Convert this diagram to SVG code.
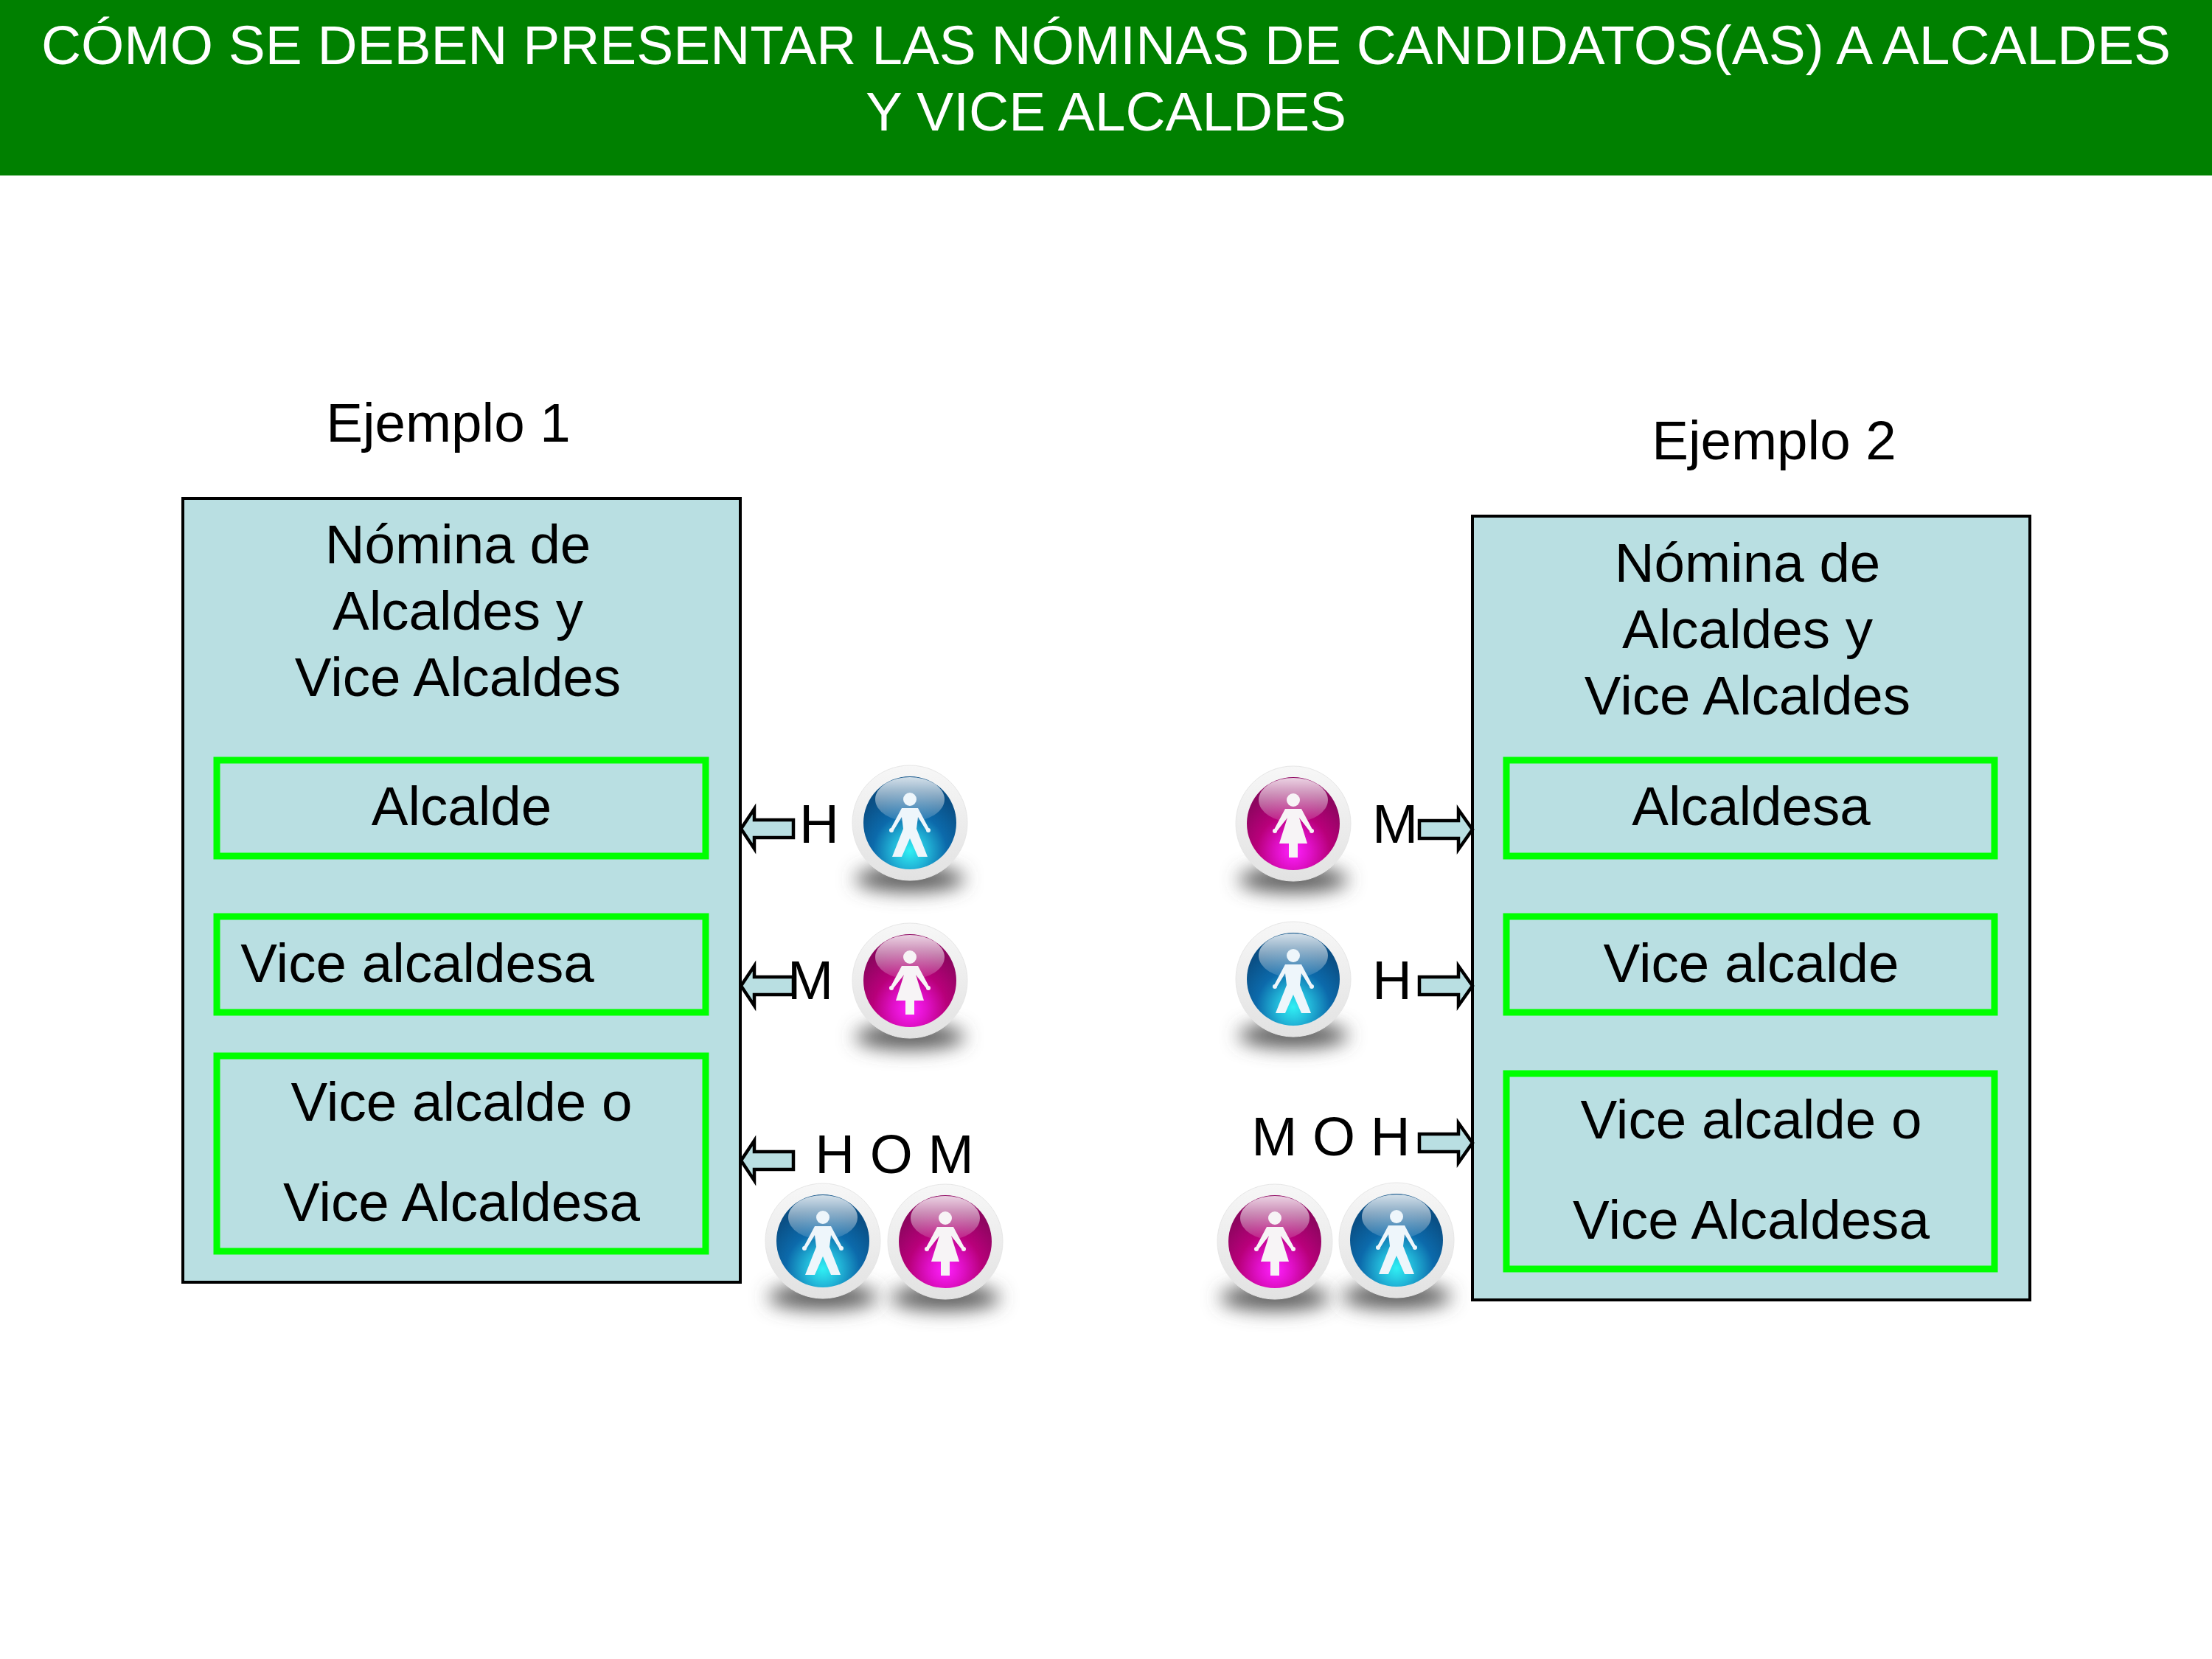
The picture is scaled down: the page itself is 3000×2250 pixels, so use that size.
<svg xmlns="http://www.w3.org/2000/svg" width="3000" height="2250" viewBox="0 0 3000 2250">
<style>
text{font-family:"Liberation Sans",Arial,sans-serif;font-size:74.6px;fill:#000;text-anchor:middle}
.h{fill:#fff}
.box{fill:#b9dfe2;stroke:#000;stroke-width:4}
.g{fill:#b9dfe2;stroke:#00ff00;stroke-width:9}
.a{fill:#b9dfe2;stroke:#000;stroke-width:4.5}
</style>
<defs>
<filter id="blur" x="-40%" y="-150%" width="180%" height="400%"><feGaussianBlur stdDeviation="13"/></filter>
<radialGradient id="bb" cx="0.5" cy="0.8" r="0.66"><stop offset="0" stop-color="#30f0f4"/><stop offset="0.28" stop-color="#22b6d8"/><stop offset="0.6" stop-color="#0c6aab"/><stop offset="1" stop-color="#0a4f85"/></radialGradient>
<radialGradient id="pb" cx="0.5" cy="0.8" r="0.66"><stop offset="0" stop-color="#ff20ff"/><stop offset="0.28" stop-color="#e010c8"/><stop offset="0.6" stop-color="#b8007a"/><stop offset="1" stop-color="#8e0560"/></radialGradient>
<linearGradient id="hl" x1="0" y1="0" x2="0" y2="1"><stop offset="0" stop-color="#fff" stop-opacity="0.82"/><stop offset="1" stop-color="#fff" stop-opacity="0.1"/></linearGradient>
<linearGradient id="ring" x1="0" y1="0" x2="0" y2="1"><stop offset="0" stop-color="#f7f7f7"/><stop offset="1" stop-color="#e2e2e2"/></linearGradient>
<g id="base"><ellipse cx="0" cy="76" rx="74" ry="17" fill="#555" filter="url(#blur)"/><circle r="78" fill="url(#ring)" stroke="#e6e6e6" stroke-width="1"/></g>
<g id="hi"><ellipse cx="0" cy="-32" rx="47" ry="30" fill="url(#hl)"/></g>
<g id="fig"><circle cx="0" cy="-32" r="9"/><circle cx="-25" cy="10" r="3"/><circle cx="25" cy="10" r="3"/></g>
<g id="man"><use href="#base"/><circle r="63" fill="url(#bb)"/><use href="#hi"/><g fill="#eef6fb"><use href="#fig"/><path d="M-11-20H11L26 8 22 10 11-8 9 8 24 46H11L0 21-11 46H-24L-9 8-11-8-22 10-26 8Z"/></g></g>
<g id="wom"><use href="#base"/><circle r="63" fill="url(#pb)"/><use href="#hi"/><g fill="#f7f4f6"><use href="#fig"/><path d="M-11-20H11L26 8 22 10 8-8 19 27H6V46H-6V27H-19L-8-8-22 10-26 8Z"/></g></g>
</defs>
<rect id="header-bg" width="3000" height="238" fill="#008000"/>
<g id="header"><text class="h" x="1500" y="87" style="font-size:74.9px">CÓMO SE DEBEN PRESENTAR LAS NÓMINAS DE CANDIDATOS(AS) A ALCALDES</text><text class="h" x="1500" y="177" style="font-size:74.9px">Y VICE ALCALDES</text></g>
<g id="ejemplo1"><text x="608" y="599">Ejemplo 1</text></g>
<g id="ejemplo2"><text x="2406" y="623">Ejemplo 2</text></g>
<g id="nomina1"><rect class="box" x="248" y="676" width="756" height="1063"/><text x="621" y="764">Nómina de</text><text x="621" y="854">Alcaldes y</text><text x="621" y="944">Vice Alcaldes</text></g>
<g id="alcalde1"><rect class="g" x="294" y="1031" width="663" height="130"/><text x="626" y="1119">Alcalde</text></g>
<g id="vice1"><rect class="g" x="294" y="1243" width="663" height="130"/><text x="566" y="1332">Vice alcaldesa</text></g>
<g id="voz1"><rect class="g" x="294" y="1432" width="663" height="265"/><text x="626" y="1520">Vice alcalde o</text><text x="626" y="1656">Vice Alcaldesa</text></g>
<g id="nomina2"><rect class="box" x="1997" y="700" width="756" height="1063"/><text x="2370" y="789">Nómina de</text><text x="2370" y="879">Alcaldes y</text><text x="2370" y="969">Vice Alcaldes</text></g>
<g id="alcalde2"><rect class="g" x="2043" y="1031" width="662" height="130"/><text x="2375" y="1119">Alcaldesa</text></g>
<g id="vice2"><rect class="g" x="2043" y="1243" width="662" height="130"/><text x="2375" y="1332">Vice alcalde</text></g>
<g id="voz2"><rect class="g" x="2043" y="1456" width="662" height="265"/><text x="2375" y="1544">Vice alcalde o</text><text x="2375" y="1680">Vice Alcaldesa</text></g>
<g id="connectors">
<path class="a" d="M1005 1124L1023 1097V1112H1076V1136H1023V1151Z"/>
<path class="a" d="M1005 1337L1023 1310V1325H1076V1349H1023V1364Z"/>
<path class="a" d="M1005 1574L1023 1547V1562H1076V1586H1023V1601Z"/>
<path class="a" d="M1997 1125L1978 1098V1113H1925V1137H1978V1152Z"/>
<path class="a" d="M1997 1337L1978 1310V1325H1925V1349H1978V1364Z"/>
<path class="a" d="M1997 1550L1978 1523V1538H1925V1562H1978V1577Z"/>
</g>
<g id="p1"><use href="#man" x="1234" y="1116"/><text x="1111" y="1143">H</text></g>
<g id="p2"><use href="#wom" x="1234" y="1330"/><text x="1099" y="1355">M</text></g>
<g id="p3"><use href="#man" x="1116" y="1683"/><use href="#wom" x="1282" y="1684"/><text x="1213" y="1591">H O M</text></g>
<g id="p4"><use href="#wom" x="1754" y="1117"/><text x="1892" y="1143">M</text></g>
<g id="p5"><use href="#man" x="1754" y="1328"/><text x="1888" y="1355">H</text></g>
<g id="p6"><use href="#wom" x="1729" y="1684"/><use href="#man" x="1894" y="1682"/><text x="1805" y="1567">M O H</text></g>
</svg>
